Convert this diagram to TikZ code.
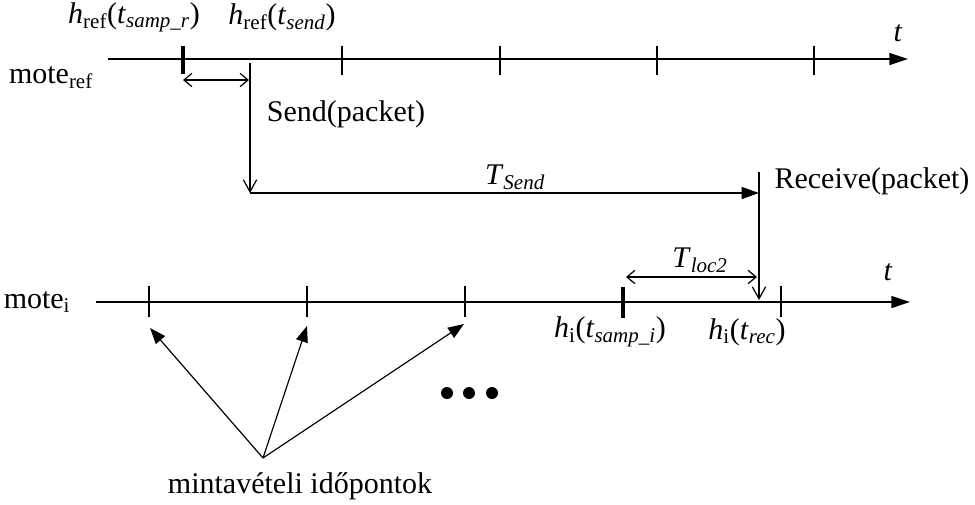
\documentclass[tikz,border=0pt]{standalone}
\usepackage{fontspec}
\setmainfont{Liberation Serif}
\usetikzlibrary{arrows.meta}
\begin{document}
\begin{tikzpicture}[x=0.75pt,y=-0.75pt,
  every node/.style={inner sep=0pt,font=\fontsize{22.5}{27}\selectfont},
  axis/.style={line width=1.2pt,-{Triangle[length=14pt,width=9pt]}},
  tick/.style={line width=0.8pt},
  thicktick/.style={line width=3pt},
  dbl/.style={line width=0.9pt,{Straight Barb[length=6pt,width=10pt]}-{Straight Barb[length=6pt,width=10pt]}},
  msg/.style={line width=0.9pt,-{Straight Barb[length=9pt,width=10pt]}},
  flow/.style={line width=0.9pt,-{Triangle[length=13pt,width=9pt]}},
  ptr/.style={line width=0.9pt,-{Triangle[length=12pt,width=9pt]}}]
\useasboundingbox (0,0) rectangle (975,504);
% axes
\coordinate (a1s) at (108,59); \coordinate (a1e) at (908,59);
\coordinate (a2s) at (96,302); \coordinate (a2e) at (910,302);
\draw[axis] (a1s) -- (a1e);
\draw[axis] (a2s) -- (a2e);
% top ticks
\draw[thicktick] (183,46) -- (183,74);
\foreach \x in {342,500,657,814} \draw[tick] (\x,46) -- (\x,75);
% bottom ticks
\foreach \x in {149,307,465,781} \draw[tick] (\x,286) -- (\x,317);
\draw[thicktick] (623,287) -- (623,318);
% send / receive
\coordinate (s0) at (250,63); \coordinate (s1) at (250,193);
\coordinate (r0) at (759,172); \coordinate (r1) at (759,300);
\coordinate (d1a) at (183,80); \coordinate (d1b) at (249,80);
\coordinate (d2a) at (626,277); \coordinate (d2b) at (757,277);
\draw[msg] (s0) -- (s1);
\draw[flow] (s1) -- (r0 |- s1);
\draw[msg] (r0) -- (r1);
\draw[dbl] (d1a) -- (d1b);
\draw[dbl] (d2a) -- (d2b);
% labels
\node (t1) at (898,33) {\textit{t}};
\node (t2) at (888,272) {\textit{t}};
\node (mr) at (51,78) {mote\textsubscript{ref}};
\node (mi) at (37,302) {mote\textsubscript{i}};
\node (hr1) at (134,17) {\textit{h}\textsubscript{ref}(\textit{t}\textsubscript{\textit{samp\_r}})};
\node (hr2) at (282,17) {\textit{h}\textsubscript{ref}(\textit{t}\textsubscript{\textit{send}})};
\node (send) at (346,114) {Send(packet)};
\node (ts) at (515,177) {\textit{T}\textsubscript{\textit{Send}}};
\node (recv) at (872,181) {Receive(packet)};
\node (tl) at (700,260) {\textit{T}\textsubscript{\textit{loc2}}};
\node (hi1) at (610,332) {\textit{h}\textsubscript{i}(\textit{t}\textsubscript{\textit{samp\_i}})};
\node (hi2) at (747,332) {\textit{h}\textsubscript{i}(\textit{t}\textsubscript{\textit{rec}})};
\node (mint) at (300,486) {mintavételi időpontok};
% pointer arrows
\coordinate (p0) at (263,458);
\coordinate (q1) at (150,328); \coordinate (q2) at (307,326); \coordinate (q3) at (464,324);
\draw[ptr] (p0) -- (q1);
\draw[ptr] (p0) -- (q2);
\draw[ptr] (p0) -- (q3);
% dots
\foreach \x in {447,469,492} \fill (\x,393) circle (6);
\end{tikzpicture}
\end{document}
